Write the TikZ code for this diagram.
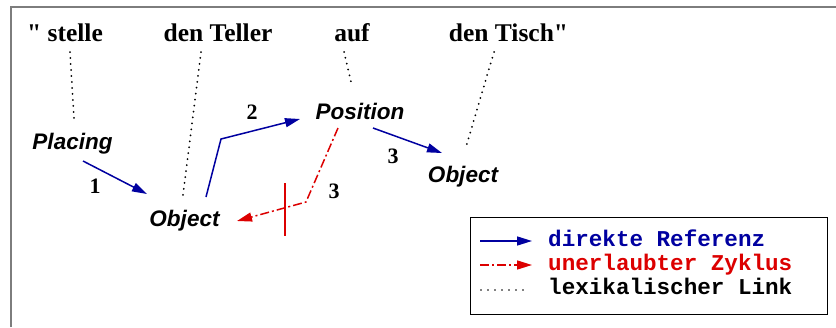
\documentclass[tikz,border=0pt]{standalone}
\usepackage{fontspec}
\setmainfont{Liberation Serif}[Ligatures=TeXOff]
\newfontfamily\conceptfont{Liberation Sans}
\newfontfamily\legendfont{Liberation Mono}
\usetikzlibrary{arrows.meta}
\definecolor{refblue}{RGB}{0,0,160}
\definecolor{cyclered}{RGB}{220,0,0}
\definecolor{framegray}{RGB}{125,125,125}

\begin{document}
\begin{tikzpicture}[x=1pt,y=-1pt,
  word/.style={anchor=base, inner sep=0pt, font=\fontsize{25.5}{30}\selectfont\bfseries},
  concept/.style={anchor=base, inner sep=0pt, font=\fontsize{22.5}{27}\selectfont\conceptfont\bfseries\itshape},
  num/.style={anchor=base, inner sep=0pt, font=\fontsize{22}{26}\selectfont\bfseries},
  legtext/.style={anchor=base west, inner sep=0pt, font=\fontsize{22.6}{27}\selectfont\legendfont\bfseries},
  tip/.style={-{Triangle[length=15pt,width=9pt]}},
  ref/.style={refblue, line width=1.5pt, tip},
  cyc/.style={cyclered, line width=1.5pt, dash pattern=on 9pt off 3pt on 2pt off 3pt, tip},
  lex/.style={line width=2pt, line cap=round, dash pattern=on 0pt off 6pt},
]
\useasboundingbox (0,0) rectangle (836,327);

% outer frame (only its top and left edges fall inside the page)
\draw[framegray, line width=2.2pt] (11,327) -- (11,7) -- (836,7);

% words of the sentence
\node[word] (w1) at (65,41)    {" stelle};
\node[word] (w2) at (218,41)   {den Teller};
\node[word] (w3) at (352,41)   {auf};
\node[word] (w4) at (508.5,41) {den Tisch"};

% concepts
\node[concept] (placing)  at (72.5,149) {Placing};
\node[concept] (position) at (360,119)  {Position};
\node[concept] (objA)     at (184.5,226){Object};
\node[concept] (objB)     at (463,182)  {Object};

% connector end points
\coordinate (w1-low)  at (70,52);   \coordinate (placing-up) at (74,118);
\coordinate (w2-low)  at (201,52);  \coordinate (objA-up)    at (183,195);
\coordinate (w3-low)  at (344,52);  \coordinate (position-up) at (352,86);
\coordinate (w4-low)  at (494,52);  \coordinate (objB-up)    at (466,147);
\coordinate (placing-out) at (83,161);  \coordinate (objA-in) at (147,194);
\coordinate (objA-out) at (206,197);    \coordinate (bend2) at (221,139);
\coordinate (position-in) at (300,119);
\coordinate (position-out) at (373,128); \coordinate (objB-in) at (442,153);
\coordinate (position-down) at (338,128); \coordinate (bend3) at (306,202);
\coordinate (objA-back) at (237,221);

% lexical links
\draw[lex] (w1-low) -- (placing-up);
\draw[lex] (w2-low) -- (objA-up);
\draw[lex] (w3-low) -- (position-up);
\draw[lex] (w4-low) -- (objB-up);

% direct references
\draw[ref] (placing-out) -- (objA-in);
\draw[ref] (objA-out) -- (bend2) -- (position-in);
\draw[ref] (position-out) -- (objB-in);

% forbidden cycle, struck through
\draw[cyc] (position-down) -- (bend3) -- (objA-back);
\coordinate (cut-top) at (285,183);
\coordinate (cut-bot) at (285,236);
\draw[cyclered, line width=1.5pt] (cut-top) -- (cut-bot);

% slot numbers
\node[num] (n1)  at (95,193)  {1};
\node[num] (n2)  at (252,119) {2};
\node[num] (n3)  at (393,163) {3};
\node[num] (n3c) at (334,198) {3};

% legend
\node[draw, line width=1pt, anchor=north west, inner sep=0pt,
      minimum width=357pt, minimum height=97pt] (legend) at (470,217) {};
\coordinate (k1a) at (480,241); \coordinate (k1b) at (532,241);
\coordinate (k2a) at (480,265); \coordinate (k2b) at (532,265);
\coordinate (k3a) at (481,290); \coordinate (k3b) at (530,290);
\draw[ref] (k1a) -- (k1b);
\draw[cyc] (k2a) -- (k2b);
\draw[lex, line width=1.8pt, dash pattern=on 0pt off 7pt] (k3a) -- (k3b);
\node[legtext, text=refblue]   (t1) at (548,246) {direkte Referenz};
\node[legtext, text=cyclered]  (t2) at (548,270) {unerlaubter Zyklus};
\node[legtext]                 (t3) at (548,294) {lexikalischer Link};
\end{tikzpicture}
\end{document}
